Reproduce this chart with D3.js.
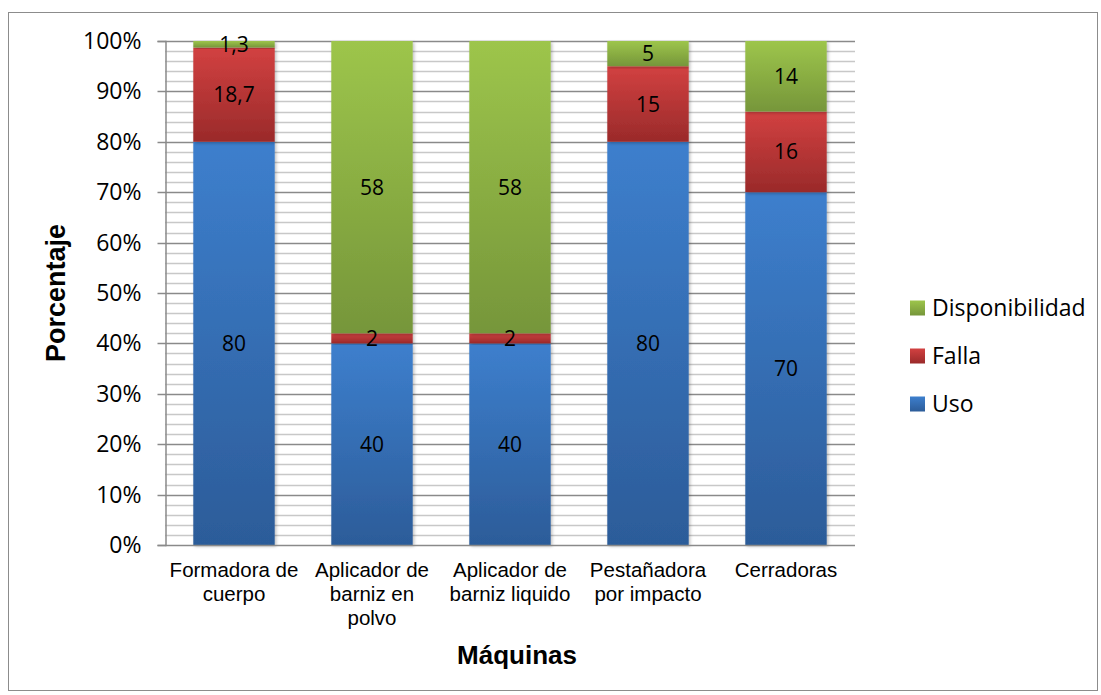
<!DOCTYPE html>
<html><head><meta charset="utf-8">
<script src="https://cdn.jsdelivr.net/npm/d3@7"></script>
<style>body{margin:0;background:#fff}</style>
</head><body><svg id="c" width="1101" height="695"></svg>
<script>
const categories = [["Formadora de","cuerpo"],["Aplicador de","barniz en","polvo"],["Aplicador de","barniz liquido"],["Pestañadora","por impacto"],["Cerradoras"]];
const uso = [80, 40, 40, 80, 70];
const falla = [18.7, 2, 2, 15, 16];
const disponibilidad = [1.3, 58, 58, 5, 14];
const labels = {uso:["80","40","40","80","70"], falla:["18,7","2","2","15","16"], disponibilidad:["1,3","58","58","5","14"]};
const seriesNames = ["Uso","Falla","Disponibilidad"];
const yTicks = [0,10,20,30,40,50,60,70,80,90,100];

const svg = d3.select("#c");
const M = {l:165, r:855, t:41, b:545};
const x = d3.scaleBand().domain(d3.range(5)).range([M.l, M.r]).paddingInner(0.41).paddingOuter(0.205);
const y = d3.scaleLinear().domain([0,100]).range([M.b, M.t]);

// frame
svg.append("rect").attr("x",8.5).attr("y",12.5).attr("width",1089).attr("height",678).attr("fill","#fff").attr("stroke","#8c8c8c").attr("stroke-width",1);

const defs = svg.append("defs");
const grads = {Uso:["#3d7fcd","#2c5c99"], Falla:["#d24141","#9a2a2a"], Disponibilidad:["#9dc54b","#76963a"]};
Object.entries(grads).forEach(([k,[a,b]])=>{
  const g = defs.append("linearGradient").attr("id","g"+k).attr("x1",0).attr("y1",0).attr("x2",0).attr("y2",1);
  g.append("stop").attr("offset","0%").attr("stop-color",a);
  g.append("stop").attr("offset","100%").attr("stop-color",b);
});
const sh = defs.append("filter").attr("id","sh").attr("x","-10%").attr("y","-5%").attr("width","130%").attr("height","115%");
sh.append("feDropShadow").attr("dx",1.5).attr("dy",1.5).attr("stdDeviation",1.5).attr("flood-color","#000").attr("flood-opacity",0.25);

// minor gridlines
const minor = d3.range(0,101,2).filter(v=>v%10!==0);
svg.append("g").selectAll("line").data(minor).join("line")
  .attr("x1",M.l).attr("x2",M.r).attr("y1",d=>Math.round(y(d))+0.5).attr("y2",d=>Math.round(y(d))+0.5)
  .attr("stroke","#c8c8c8").attr("stroke-width",1.5);
svg.append("g").selectAll("line").data(yTicks.filter(v=>v>0)).join("line")
  .attr("x1",M.l).attr("x2",M.r).attr("y1",d=>Math.round(y(d))+0.5).attr("y2",d=>Math.round(y(d))+0.5)
  .attr("stroke","#8a8a8a").attr("stroke-width",1.5);

// stack
const rows = d3.range(5).map(i=>({i, Uso:uso[i], Falla:falla[i], Disponibilidad:disponibilidad[i]}));
const stack = d3.stack().keys(seriesNames)(rows);
const gBars = svg.append("g");
stack.forEach(s=>{
  gBars.append("g").selectAll("rect").data(s).join("rect")
    .attr("x",d=>x(d.data.i)).attr("width",x.bandwidth())
    .attr("y",d=>y(d[1])).attr("height",d=>y(d[0])-y(d[1]))
    .attr("fill","url(#g"+s.key+")").attr("filter","url(#sh)");
});
const lblMap = {Uso:labels.uso, Falla:labels.falla, Disponibilidad:labels.disponibilidad};
stack.forEach(s=>{
  svg.append("g").selectAll("text").data(s).join("text")
    .attr("x",d=>x(d.data.i)+x.bandwidth()/2).attr("y",d=>(y(d[0])+y(d[1]))/2)
    .attr("dy","0.36em").attr("text-anchor","middle")
    .attr("font-family","'Open Sans','Noto Sans',sans-serif").attr("font-size",21).attr("fill","#000")
    .text((d,j)=>lblMap[s.key][j]);
});

// y axis
const ya = svg.append("g").attr("transform",`translate(${M.l+0.5},0)`)
  .call(d3.axisLeft(y).tickValues(yTicks).tickFormat(d=>d+"%").tickSize(8).tickPadding(16));
ya.select(".domain").attr("stroke","#8a8a8a").attr("stroke-width",1.5);
ya.selectAll(".tick line").attr("stroke","#8a8a8a").attr("stroke-width",1.5);
ya.selectAll("text").attr("font-family","'Open Sans','Noto Sans',sans-serif").attr("font-size",23).attr("fill","#000");
ya.selectAll(".tick").attr("transform",d=>`translate(0,${Math.round(y(d))+0.5})`);

// x axis line
svg.append("line").attr("x1",M.l).attr("x2",M.r).attr("y1",M.b+0.5).attr("y2",M.b+0.5).attr("stroke","#8a8a8a").attr("stroke-width",1.5);
// x labels
const xl = svg.append("g");
categories.forEach((lines,i)=>{
  const t = xl.append("text").attr("x",x(i)+x.bandwidth()/2).attr("y",577).attr("text-anchor","middle")
    .attr("font-family","'Liberation Sans',Arial,sans-serif").attr("font-size",20.5).attr("fill","#000");
  lines.forEach((l,k)=>t.append("tspan").attr("x",x(i)+x.bandwidth()/2).attr("dy",k?24:0).text(l));
});

// titles
svg.append("text").attr("x",517).attr("y",664).attr("text-anchor","middle")
  .attr("font-family","'Liberation Sans',Arial,sans-serif").attr("font-weight","bold").attr("font-size",26).text("Máquinas");
svg.append("text").attr("transform","translate(65,293) rotate(-90)").attr("text-anchor","middle")
  .attr("font-family","'Liberation Sans',Arial,sans-serif").attr("font-weight","bold").attr("font-size",27).text("Porcentaje");

// legend
const leg = svg.append("g");
["Disponibilidad","Falla","Uso"].forEach((k,j)=>{
  const yy = 308 + j*48;
  leg.append("rect").attr("x",910).attr("y",yy-7.5).attr("width",15).attr("height",15).attr("fill","url(#g"+k+")");
  leg.append("text").attr("x",932).attr("y",yy).attr("dy","0.36em")
    .attr("font-family","'Open Sans','Noto Sans',sans-serif").attr("font-size",23).attr("fill","#000").text(k);
});
</script></body></html>
